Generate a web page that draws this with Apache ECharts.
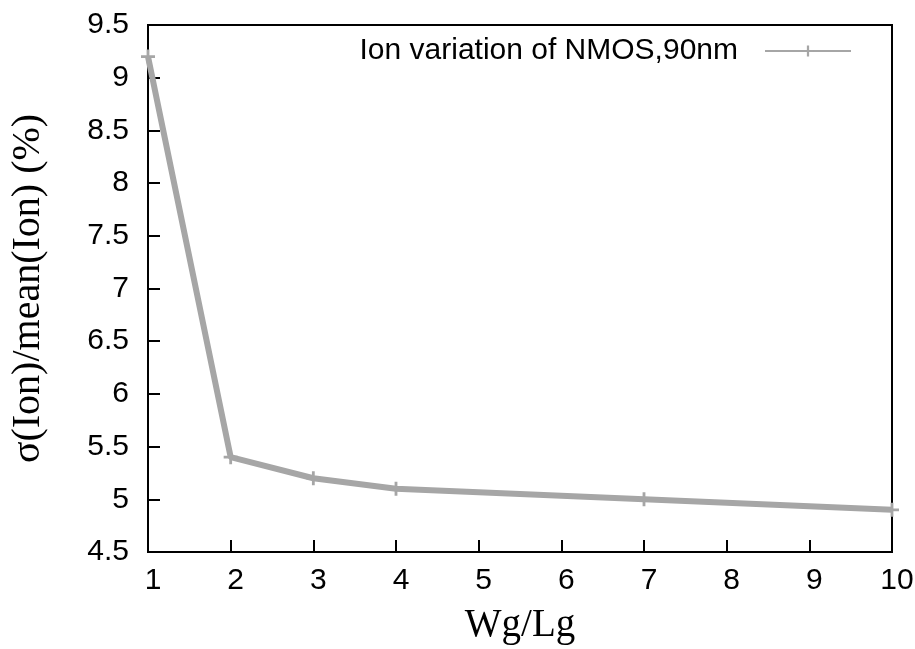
<!DOCTYPE html>
<html><head><meta charset="utf-8">
<script src="https://cdn.jsdelivr.net/npm/echarts@6/dist/echarts.min.js"></script>
<style>html,body{margin:0;padding:0;background:#fff}#c{width:915px;height:649px}</style>
</head><body><div id="c"></div>
<script>
const ratioWL = [1, 2, 3, 4, 7, 10];
const ionVariation = [9.2, 5.4, 5.2, 5.1, 5.0, 4.9];
const seriesName = 'Ion variation of NMOS,90nm';
const xTitle = 'Wg/Lg';
const yTitle = 'σ(Ion)/mean(Ion) (%)';

const chart = echarts.init(document.getElementById('c'), null, {renderer: 'canvas'});
const markerPath = 'path://M4,0 L6,0 L6,4 L10,4 L10,6 L6,6 L6,10 L4,10 L4,6 L0,6 L0,4 L4,4 Z';
chart.setOption({
  animation: false,
  backgroundColor: '#fff',
  grid: {left: 148, right: 23, top: 25, bottom: 97, show: true, borderColor: '#000', borderWidth: 2, backgroundColor: 'transparent', containLabel: false, outerBoundsMode: 'none'},
  legend: {
    right: 58, top: 31, align: 'right', itemWidth: 86, itemHeight: 14, itemGap: 0,
    textStyle: {fontFamily: 'Liberation Sans, Arial', fontSize: 30, color: '#000', padding: [0, 22, 0, 0]},
    data: [{name: seriesName}]
  },
  xAxis: {
    type: 'value', min: 1, max: 10, interval: 1,
    name: xTitle, nameLocation: 'middle', nameGap: 54,
    nameTextStyle: {fontFamily: 'Liberation Serif, Times New Roman', fontSize: 39, color: '#000'},
    axisLine: {show: true, lineStyle: {color: '#000', width: 2}},
    axisTick: {show: true, inside: true, length: 12, lineStyle: {color: '#000', width: 2}},
    axisLabel: {fontFamily: 'Liberation Sans, Arial', fontSize: 30, color: '#000', margin: 14, padding: [0, 0, 0, 10]},
    splitLine: {show: false}
  },
  yAxis: {
    type: 'value', min: 4.5, max: 9.5, interval: 0.5,
    name: yTitle, nameLocation: 'middle', nameGap: 100,
    nameTextStyle: {fontFamily: 'Liberation Serif, Times New Roman', fontSize: 40, color: '#000'},
    axisLine: {show: true, lineStyle: {color: '#000', width: 2}},
    axisTick: {show: true, inside: true, length: 12, lineStyle: {color: '#000', width: 2}},
    axisLabel: {fontFamily: 'Liberation Sans, Arial', fontSize: 30, color: '#000', margin: 19},
    splitLine: {show: false}
  },
  series: [{
    name: seriesName, type: 'line',
    data: ratioWL.map((x, i) => [x, ionVariation[i]]),
    lineStyle: {color: '#a6a6a6', width: 6},
    itemStyle: {color: '#a6a6a6'},
    symbol: markerPath, symbolSize: 14, showSymbol: true
  }]
});
</script></body></html>
